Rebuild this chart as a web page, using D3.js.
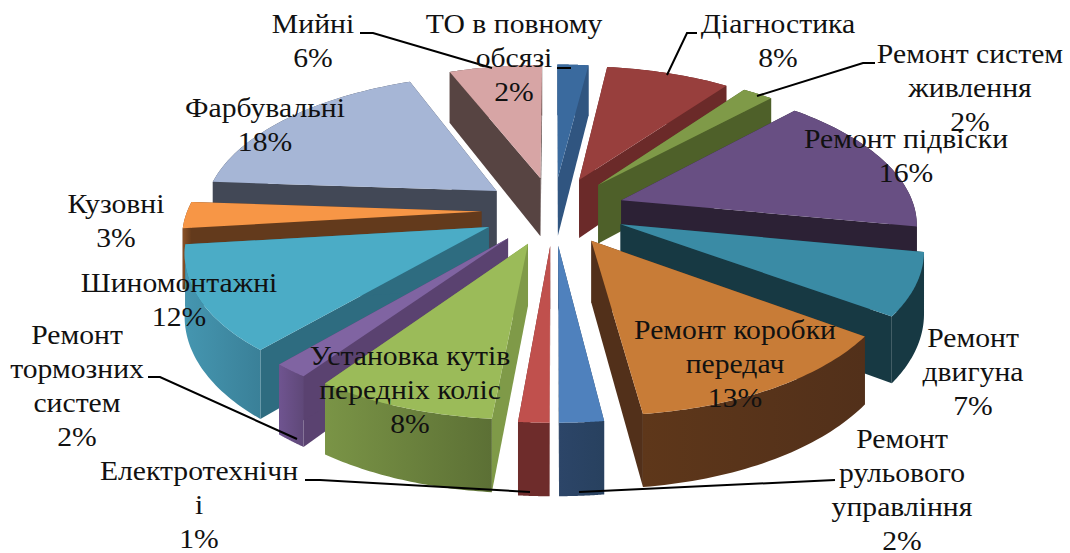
<!DOCTYPE html>
<html>
<head>
<meta charset="utf-8">
<script src="https://cdn.jsdelivr.net/npm/d3@7"></script>
<style>
    html, body { margin: 0; padding: 0; background: #fff; }
    svg { display: block; }
    text { font-family: "Liberation Serif", serif; font-size: 26.5px; fill: #111; text-anchor: middle; }
</style>
</head>
<body>
<div id="chart"></div>
<script>
// values, clockwise from 12 o'clock
const categories = ['ТО в повному обсязі', 'Діагностика', 'Ремонт систем живлення', 'Ремонт підвіски',
    'Ремонт двигуна', 'Ремонт коробки передач', 'Ремонт рульового управління', 'Електротехнічні',
    'Установка кутів передніх коліс', 'Ремонт тормозних систем', 'Шиномонтажні', 'Кузовні', 'Фарбувальні', 'Мийні'];
// slice sizes, the labels below carry the rounded percent
const shares = [2, 8, 2, 16, 7, 13, 2, 1.4, 8.3, 1.6, 11.8, 3, 17.9, 6];

// label text as wrapped in the picture, same order as categories
const labelLines = [
    ['ТО в повному', 'обсязі', '2%'],
    ['Діагностика', '8%'],
    ['Ремонт систем', 'живлення', '2%'],
    ['Ремонт підвіски', '16%'],
    ['Ремонт', 'двигуна', '7%'],
    ['Ремонт коробки', 'передач', '13%'],
    ['Ремонт', 'рульового', 'управління', '2%'],
    ['Електротехнічн', 'і', '1%'],
    ['Установка кутів', 'передніх коліс', '8%'],
    ['Ремонт', 'тормозних', 'систем', '2%'],
    ['Шиномонтажні', '12%'],
    ['Кузовні', '3%'],
    ['Фарбувальні', '18%'],
    ['Мийні', '6%']
];

// styles
const topColors = ['#3a6a9e', '#983f3d', '#7f9a48', '#684f83', '#3a8ba5', '#c87c37', '#4f81bd',
    '#c0504d', '#9bbb59', '#8064a2', '#4bacc6', '#f79646', '#a6b6d6', '#d7a5a5'];
const sideColors = ['#305580', '#6b2a29', '#4e6029', '#2c2135', '#173943', '#52301a', '#2a4565',
    '#6e2c2b', '#7f9a48', '#5a4270', '#2e6c80', '#633a1c', '#424856', '#574442'];
const wallFrom = ['#305580', '#6b2a29', '#4e6029', '#2c2135', '#173943', '#5e371a', '#2c4568',
    '#6e2c2b', '#7a9446', '#6f5490', '#4596b0', '#8a5126', '#424856', '#574442'];
const wallTo = ['#305580', '#6b2a29', '#4e6029', '#2c2135', '#173943', '#52301a', '#28415f',
    '#6e2c2b', '#5c7035', '#5f4878', '#3a8098', '#633a1c', '#424856', '#574442'];

// label anchors: centre x, first baseline
const labelX = [514, 778, 970, 906, 973, 735, 902, 199, 410, 77, 179, 116, 265, 313];
const labelY = [33, 33, 63, 148, 347, 339, 448, 480, 365, 344, 292, 213, 117, 33];
const lineStep = 34;
const textStretch = 1.12;  // the picture's text is wider than the font

const leaders = [
    [[360, 33], [373, 33], [492, 68]],
    [[557, 68], [571, 68]],
    [[697, 33], [687, 33], [667, 75]],
    [[875, 63], [863, 63], [757, 96]],
    [[148, 377], [160, 377], [297, 439]],
    [[305, 480], [320, 480], [530, 492]],
    [[835, 480], [579, 492]]
];

const width = 1070, height = 553;

// projection of the pie plane, radius = 1
const explode = 0.245;     // distance every slice is pulled out
const persp = 0.148;       // perspective strength along the depth axis
const thick = 60;          // px
const xScale = d3.scaleLinear().domain([-1, 1]).range([553.5 - 294, 553.5 + 294]);
const yScale = d3.scaleLinear().domain([-1, 1]).range([210.6 - 139, 210.6 + 139]);

const project = (gx, gy, drop) => {
    const s = 1 / (1 - persp * gy);
    return [xScale(gx * s), yScale(gy * s) + (drop ? thick * s : 0)];
};

const pie = d3.pie().sort(null).value(d => d)(shares).map((d, i) => {
    const mid = (d.startAngle + d.endAngle) / 2;
    return {
        i,
        a0: d.startAngle,
        a1: d.endAngle,
        ox: explode * Math.sin(mid),
        oy: -explode * Math.cos(mid)
    };
});

const rim = (d, a, drop) => project(d.ox + Math.sin(a), d.oy - Math.cos(a), drop);
const apex = (d, drop) => project(d.ox, d.oy, drop);
const rimPoints = (d, drop) => d3.range(0, 41).map(k => rim(d, d.a0 + (d.a1 - d.a0) * k / 40, drop));

const line = d3.line();
const closed = pts => line(pts) + 'Z';

const svg = d3.select('#chart').append('svg')
    .attr('width', width)
    .attr('height', height)
    .attr('viewBox', `0 0 ${width} ${height}`);

svg.append('rect').attr('width', width).attr('height', height).attr('fill', '#fff');

const defs = svg.append('defs');
const grads = defs.selectAll('linearGradient')
    .data(pie)
    .enter()
    .append('linearGradient')
    .attr('id', d => `wall-${d.i}`);
grads.append('stop').attr('offset', '0%').attr('stop-color', d => wallFrom[d.i]);
grads.append('stop').attr('offset', '100%').attr('stop-color', d => wallTo[d.i]);

// back to front so nearer slices cover the far ones
const ordered = pie.slice().sort((a, b) => a.oy - b.oy);

const slices = svg.append('g').selectAll('.slice')
    .data(ordered)
    .enter()
    .append('g')
    .attr('class', 'slice')
    .attr('data-name', d => categories[d.i]);

// radial cut faces
[d => d.a0, d => d.a1].forEach(edge => {
    slices.append('path')
        .attr('fill', d => sideColors[d.i])
        .attr('d', d => closed([apex(d, false), rim(d, edge(d), false), rim(d, edge(d), true), apex(d, true)]));
});

// outer wall
slices.append('path')
    .attr('fill', d => `url(#wall-${d.i})`)
    .attr('d', d => closed(rimPoints(d, false).concat(rimPoints(d, true).reverse())));

// top surface
slices.append('path')
    .attr('fill', d => topColors[d.i])
    .attr('d', d => closed([apex(d, false)].concat(rimPoints(d, false))));

svg.append('g').selectAll('path')
    .data(leaders)
    .enter()
    .append('path')
    .attr('d', d => line(d))
    .attr('fill', 'none')
    .attr('stroke', '#000')
    .attr('stroke-width', 2);

const labels = svg.append('g').selectAll('text')
    .data(labelLines)
    .enter()
    .append('text')
    .attr('transform', (d, i) => `translate(${labelX[i]},${labelY[i]}) scale(${textStretch},1)`);

labels.selectAll('tspan')
    .data(d => d)
    .enter()
    .append('tspan')
    .attr('x', 0)
    .attr('y', (d, k) => k * lineStep)
    .text(d => d);
</script>
</body>
</html>
